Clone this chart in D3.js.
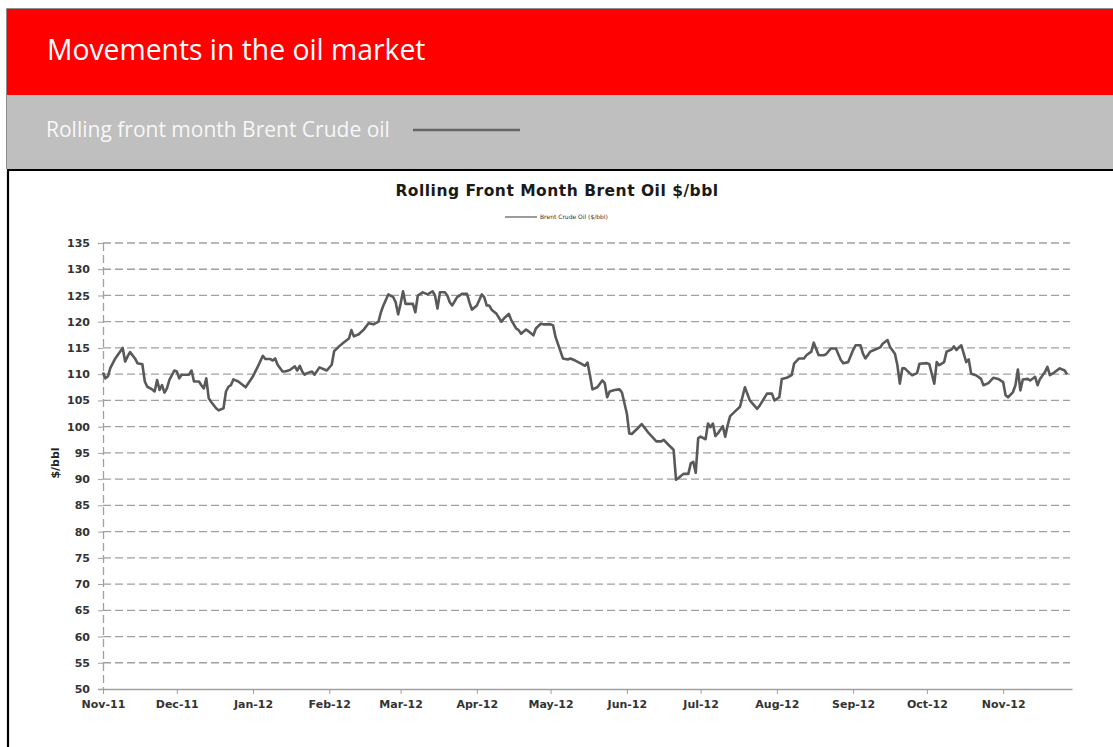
<!DOCTYPE html>
<html>
<head>
<meta charset="utf-8">
<script src="https://cdn.jsdelivr.net/npm/d3@7"></script>
<style>
  body { margin: 0; background: #fff; }
  svg { display: block; }
</style>
</head>
<body>
<svg id="chart" width="1113" height="747"></svg>
<script>
// Brent front month (date, $/bbl)
const tradeDates = [
  "2011-11-01","2011-11-02","2011-11-03","2011-11-04","2011-11-06","2011-11-09","2011-11-10","2011-11-11","2011-11-12","2011-11-14","2011-11-15","2011-11-17","2011-11-18","2011-11-19","2011-11-21","2011-11-22","2011-11-23","2011-11-24","2011-11-25","2011-11-26","2011-11-27","2011-11-28","2011-11-30",
  "2011-12-01","2011-12-02","2011-12-03","2011-12-06","2011-12-07","2011-12-08","2011-12-10","2011-12-11","2011-12-12","2011-12-13","2011-12-14","2011-12-15","2011-12-17","2011-12-18","2011-12-20","2011-12-21","2011-12-22","2011-12-23","2011-12-24","2011-12-26","2011-12-29",
  "2012-01-01","2012-01-03","2012-01-05","2012-01-06","2012-01-08","2012-01-09","2012-01-10","2012-01-11","2012-01-13","2012-01-14","2012-01-16","2012-01-18","2012-01-19","2012-01-20","2012-01-21","2012-01-22","2012-01-23","2012-01-25","2012-01-26","2012-01-28","2012-01-31",
  "2012-02-02","2012-02-03","2012-02-05","2012-02-07","2012-02-09","2012-02-10","2012-02-11","2012-02-13","2012-02-15","2012-02-17","2012-02-19","2012-02-21","2012-02-22","2012-02-23","2012-02-25","2012-02-27","2012-02-28","2012-02-29",
  "2012-03-01","2012-03-02","2012-03-03","2012-03-05","2012-03-06","2012-03-07","2012-03-08","2012-03-10","2012-03-12","2012-03-14","2012-03-15","2012-03-16","2012-03-17","2012-03-19","2012-03-20","2012-03-21","2012-03-22","2012-03-24","2012-03-26","2012-03-28","2012-03-29","2012-03-30",
  "2012-04-01","2012-04-03","2012-04-04","2012-04-05","2012-04-06","2012-04-07","2012-04-09","2012-04-11","2012-04-12","2012-04-14","2012-04-15","2012-04-17","2012-04-18","2012-04-19","2012-04-21","2012-04-22","2012-04-24","2012-04-25","2012-04-27","2012-04-28",
  "2012-05-01","2012-05-02","2012-05-03","2012-05-06","2012-05-08","2012-05-09","2012-05-11","2012-05-13","2012-05-15","2012-05-16","2012-05-17","2012-05-18","2012-05-20","2012-05-22","2012-05-23","2012-05-24","2012-05-25","2012-05-27","2012-05-29","2012-05-30",
  "2012-06-01","2012-06-02","2012-06-03","2012-06-05","2012-06-07","2012-06-08","2012-06-10","2012-06-13","2012-06-15","2012-06-16","2012-06-18","2012-06-20","2012-06-21","2012-06-22","2012-06-24","2012-06-26","2012-06-27","2012-06-28","2012-06-29","2012-06-30",
  "2012-07-01","2012-07-03","2012-07-04","2012-07-05","2012-07-06","2012-07-07","2012-07-08","2012-07-10","2012-07-11","2012-07-12","2012-07-13","2012-07-15","2012-07-17","2012-07-19","2012-07-21","2012-07-24","2012-07-25","2012-07-28","2012-07-30","2012-07-31",
  "2012-08-02","2012-08-03","2012-08-05","2012-08-07","2012-08-08","2012-08-10","2012-08-12","2012-08-13","2012-08-15","2012-08-16","2012-08-18","2012-08-20","2012-08-21","2012-08-23","2012-08-25","2012-08-27","2012-08-28","2012-08-30",
  "2012-09-01","2012-09-02","2012-09-04","2012-09-05","2012-09-06","2012-09-08","2012-09-10","2012-09-12","2012-09-13","2012-09-15","2012-09-16","2012-09-18","2012-09-19","2012-09-20","2012-09-21","2012-09-22","2012-09-24","2012-09-25","2012-09-27","2012-09-28",
  "2012-10-01","2012-10-02","2012-10-04","2012-10-05","2012-10-06","2012-10-08","2012-10-09","2012-10-11","2012-10-12","2012-10-13","2012-10-14","2012-10-15","2012-10-17","2012-10-18","2012-10-19","2012-10-21","2012-10-23","2012-10-24","2012-10-26","2012-10-28","2012-10-30",
  "2012-11-01","2012-11-02","2012-11-03","2012-11-05","2012-11-06","2012-11-07","2012-11-08","2012-11-09","2012-11-11","2012-11-12","2012-11-14","2012-11-15","2012-11-16","2012-11-18","2012-11-19","2012-11-20","2012-11-22","2012-11-24","2012-11-26","2012-11-27"
]

const brentPrices = [
  110.3,109.2,109.6,111.2,113,115,112.4,113.4,114.2,113,112.1,111.9,108.6,107.6,107.1,106.7,108.9,107,107.9,106.5,107.3,108.9,110.7,
  110.5,109.2,109.9,109.9,110.7,108.6,108.6,107.9,107.3,109.2,105.4,104.7,103.5,103.1,103.5,106.7,107.6,107.9,109,108.6,107.5,
  109.6,111.5,113.5,112.9,112.9,112.6,113,111.8,110.5,110.5,110.8,111.5,110.7,111.6,110.5,109.9,110.2,110.5,109.9,111.3,110.7,
  111.8,114.4,115.3,116.1,116.8,118.4,117.2,117.6,118.5,119.7,119.5,120,121.8,123.1,125.2,124.7,123.7,121.4,
  123.4,125.8,123.4,123.4,123.4,121.8,125,125.6,125.2,125.8,125,122.5,125.6,125.6,125,123.7,123.1,124.7,125.3,125.3,123.7,122.3,
  123.1,125.2,124.7,123.1,123.1,122.3,121.5,120,120.6,121.5,120.3,118.7,118.4,117.7,118.5,118.2,117.4,118.7,119.6,119.5,
  119.5,119.3,117.1,113,112.8,113,112.6,112.1,111.6,112.2,109.8,107.1,107.5,108.8,108.3,105.6,106.7,107,107.1,106.5,
  102.5,98.7,98.6,99.5,100.5,99.9,98.7,97.2,97.2,97.5,96.5,95.6,89.9,90.2,91,91,93,93.3,91.2,97.8,
  98.1,97.6,100.6,99.9,100.6,98.2,98.7,100.1,98.1,100.3,102,102.9,103.8,107.5,105,103.4,104,106.3,106.3,105,
  105.6,109.1,109.3,109.8,112,113,113,113.6,114.3,116,113.6,113.6,113.8,114.9,114.9,112.7,112.1,112.3,
  114.6,115.5,115.5,113.9,113,114.3,114.7,115.1,115.8,116.5,115.2,113.9,111.7,108.2,111.1,111.1,110.2,109.8,110.2,112,
  112.1,111.9,108.2,112.3,111.7,112.3,114.3,114.7,115.3,114.6,115.1,115.5,112.3,112.8,110.1,109.8,109.1,107.9,108.3,109.3,109.1,
  108.5,106,105.6,106.6,107.9,110.9,106.9,109,109.1,108.8,109.5,107.9,109.1,110.4,111.4,109.8,110.4,111.1,110.7,110
]

const yTicks = [50, 55, 60, 65, 70, 75, 80, 85, 90, 95, 100, 105, 110, 115, 120, 125, 130, 135]
const monthTicks = ["2011-11-01","2011-12-01","2012-01-01","2012-02-01","2012-03-01","2012-04-01","2012-05-01",
  "2012-06-01","2012-07-01","2012-08-01","2012-09-01","2012-10-01","2012-11-01"]
const xDomain = ["2011-11-01", "2012-11-29"]

const parse = d3.timeParse("%Y-%m-%d")
const data = tradeDates.map((d, i) => ({ date: parse(d), value: brentPrices[i] }))

const svg = d3.select("#chart")
const W = 1113, H = 747

// ---- header bands ----
svg.append("rect").attr("x", 7).attr("y", 9).attr("width", W - 7).attr("height", 86).attr("fill", "#ff0000")
svg.append("rect").attr("x", 7).attr("y", 95).attr("width", W - 7).attr("height", 74).attr("fill", "#bfbfbf")
svg.append("path").attr("d", `M6.5,169 V8.5 H${W}`).attr("fill", "none").attr("stroke", "#8c8c8c").attr("stroke-width", 1)

svg.append("text")
  .attr("x", 47).attr("y", 60)
  .style("font-family", "'Open Sans', sans-serif")
  .style("font-size", "28.3px")
  .style("fill", "#ffffff")
  .text("Movements in the oil market")

svg.append("text")
  .attr("x", 46).attr("y", 137)
  .style("font-family", "'Open Sans', sans-serif")
  .style("font-size", "21px")
  .style("fill", "#f7f7f7")
  .text("Rolling front month Brent Crude oil")

svg.append("line")
  .attr("x1", 413).attr("x2", 520).attr("y1", 130).attr("y2", 130)
  .attr("stroke", "#666").attr("stroke-width", 2.5)

// ---- chart frame (black) ----
svg.append("path").attr("d", `M8,${H} V170 H${W}`).attr("fill", "none").attr("stroke", "#000").attr("stroke-width", 2.2)

// ---- scales ----
const x = d3.scaleTime().domain(xDomain.map(parse)).range([103, 1072])
const y = d3.scaleLinear().domain([50, 135]).range([689, 243])

const axisFont = "'DejaVu Sans', Verdana, sans-serif"

// gridlines
svg.append("g")
  .attr("class", "grid")
  .selectAll("line")
  .data(yTicks.filter(t => t > 50))
  .enter().append("line")
  .attr("x1", x.range()[0]).attr("x2", 1070)
  .attr("y1", d => y(d)).attr("y2", d => y(d))
  .style("stroke", "#a0a0a0")
  .style("stroke-width", 1.3)
  .style("stroke-dasharray", "8,4")

// y axis
const yAxis = svg.append("g")
  .attr("class", "y-axis")
  .attr("transform", `translate(${x.range()[0]},0)`)
  .call(d3.axisLeft(y).tickValues(yTicks).tickSize(5).tickPadding(8))
yAxis.select(".domain")
  .style("stroke", "#a0a0a0").style("stroke-width", 1.3).style("stroke-dasharray", "8,4")
yAxis.selectAll(".tick line").style("stroke", "#a0a0a0")
yAxis.selectAll("text")
  .style("font-family", axisFont)
  .style("font-size", "11px")
  .style("font-weight", "bold")
  .style("fill", "#333")

// x axis
const xAxis = svg.append("g")
  .attr("class", "x-axis")
  .attr("transform", `translate(0,${y(50)})`)
  .call(d3.axisBottom(x)
    .tickValues(monthTicks.map(parse))
    .tickFormat(d3.timeFormat("%b-%y"))
    .tickSize(5)
    .tickSizeOuter(0)
    .tickPadding(6))
xAxis.select(".domain").style("stroke", "#a0a0a0").style("stroke-width", 1.3)
xAxis.selectAll(".tick line").style("stroke", "#a0a0a0")
xAxis.selectAll("text")
  .style("font-family", axisFont)
  .style("font-size", "11px")
  .style("font-weight", "bold")
  .style("fill", "#333")

// axis title
svg.append("text")
  .attr("transform", "translate(59,463) rotate(-90)")
  .attr("text-anchor", "middle")
  .style("font-family", axisFont)
  .style("font-size", "11px")
  .style("font-weight", "bold")
  .style("fill", "#222")
  .text("$/bbl")

// chart title
svg.append("text")
  .attr("x", 557).attr("y", 196)
  .attr("text-anchor", "middle")
  .style("font-family", axisFont)
  .style("font-size", "15.5px")
  .style("font-weight", "bold")
  .style("letter-spacing", "0.5px")
  .style("fill", "#1a1a1a")
  .text("Rolling Front Month Brent Oil $/bbl")

// legend
svg.append("line")
  .attr("x1", 505).attr("x2", 537).attr("y1", 217).attr("y2", 217)
  .attr("stroke", "#595959").attr("stroke-width", 1.2)
svg.append("text")
  .attr("x", 540).attr("y", 219)
  .style("font-family", axisFont)
  .style("font-size", "6px")
  .style("fill", "#333")
  .text("Brent Crude Oil ($/bbl)")

// price line
const line = d3.line()
  .x(d => x(d.date))
  .y(d => y(d.value))

svg.append("path")
  .datum(data)
  .attr("fill", "none")
  .attr("stroke", "#595959")
  .attr("stroke-width", 2.6)
  .attr("stroke-linejoin", "round")
  .attr("d", line)
</script>
</body>
</html>
